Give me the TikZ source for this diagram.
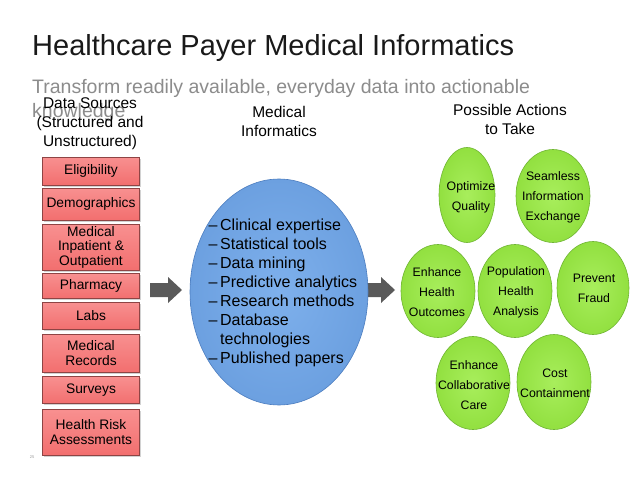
\documentclass[tikz,border=0pt]{standalone}
\usepackage{fontspec}
\setmainfont{Liberation Sans}
\usetikzlibrary{shapes.geometric,shadows}
\definecolor{redfill}{HTML}{F26F6F}
\definecolor{redtop}{HTML}{F89090}
\definecolor{redline}{HTML}{8E4444}
\definecolor{greenfill}{HTML}{92E040}
\definecolor{greenin}{HTML}{A8EE5C}
\definecolor{greenline}{HTML}{6FB532}
\definecolor{bluefill}{HTML}{6CA0E0}
\definecolor{bluein}{HTML}{7EB0EC}
\definecolor{blueline}{HTML}{4C7DBF}
\definecolor{arrowgray}{HTML}{5A5A5A}
\definecolor{subgray}{HTML}{8C8C8C}
\tikzset{
  srcbox/.style={rectangle, minimum width=97pt, inner sep=1pt, align=center,
    top color=redtop, bottom color=redfill, draw=redline, line width=0.8pt,
    font=\fontsize{13.8}{14.5}\selectfont, drop shadow={shadow xshift=1pt, shadow yshift=-1.5pt, opacity=0.35}},
  action/.style={ellipse, minimum width=74pt, minimum height=93pt, inner sep=0pt,
    inner color=greenin, outer color=greenfill, draw=greenline, line width=0.6pt},
  actext/.style={align=center, font=\fontsize{12.3}{20}\selectfont},
  blockarrow/.style={fill=arrowgray, draw=none},
  heading/.style={align=center, font=\fontsize{15.5}{19}\selectfont}
}
\begin{document}
\begin{tikzpicture}[x=1pt,y=-1pt]
\useasboundingbox[fill=white] (0,0) rectangle (638,479);
% titles
\node (title) [anchor=base west, inner sep=0pt, font=\fontsize{29}{32}\selectfont, text=black!90] at (32,55) {Healthcare Payer Medical Informatics};
\node (sub) [anchor=base west, inner sep=0pt, align=left, text=subgray, font=\fontsize{19.5}{24}\selectfont] at (32,117) {Transform readily available, everyday data into actionable\\knowledge};
% headings
\node (hsrc) [heading] at (90,124) {Data Sources\\(Structured and\\Unstructured)};
\node (hmi) [heading] at (279,121) {Medical\\Informatics};
\node (hact) [heading] at (510,119) {Possible Actions\\to Take};
% source boxes
\node (b1) [srcbox, minimum height=28pt] at (91,171) {Eligibility};
\node (b2) [srcbox, minimum height=32pt] at (91,204) {Demographics};
\node (b3) [srcbox, minimum height=46pt] at (91,247) {Medical\\Inpatient \&\\Outpatient};
\node (b4) [srcbox, minimum height=25pt] at (91,286) {Pharmacy};
\node (b5) [srcbox, minimum height=27pt] at (91,316) {Labs};
\node (b6) [srcbox, minimum height=38pt] at (91,353) {Medical\\Records};
\node (b7) [srcbox, minimum height=27pt] at (91,390) {Surveys};
\node (b8) [srcbox, minimum height=46pt] at (91,432) {Health Risk\\Assessments};
\node (pg) [font=\fontsize{4}{4}\selectfont, text=black!40, inner sep=0pt] at (32,457) {25};
% arrows
\fill[blockarrow] (150,283) -- (168,283) -- (168,277) -- (182,290) -- (168,303) -- (168,297) -- (150,297) -- cycle;
\fill[blockarrow] (367,283) -- (381,283) -- (381,277) -- (395,290) -- (381,303) -- (381,297) -- (367,297) -- cycle;
% center ellipse
\node (mi) [ellipse, minimum width=178pt, minimum height=226pt, inner color=bluein, outer color=bluefill, draw=blueline, line width=0.6pt] at (279,292) {};
\node (mitext) [anchor=base west, inner sep=0pt, align=left, font=\fontsize{16}{19}\selectfont] at (220,363)
 {\llap{–\,}Clinical expertise\\\llap{–\,}Statistical tools\\\llap{–\,}Data mining\\\llap{–\,}Predictive analytics\\\llap{–\,}Research methods\\\llap{–\,}Database\\technologies\\\llap{–\,}Published papers};
% actions
\node (e1) [action, minimum width=56pt, minimum height=95pt] at (467,195) {};
\node (e2) [action] at (553,196) {};
\node (e3) [action] at (438,291) {};
\node (e4) [action] at (515,291) {};
\node (e5) [action, minimum width=72pt] at (593,288) {};
\node (e6) [action] at (473,383) {};
\node (e7) [action, minimum height=95pt] at (554,382) {};
\node (t1) [actext] at (471,197) {Optimize\\Quality};
\node (t2) [actext] at (553,197) {Seamless\\Information\\Exchange};
\node (t3) [actext] at (437,292) {Enhance\\Health\\Outcomes};
\node (t4) [actext] at (516,292) {Population\\Health\\Analysis};
\node (t5) [actext] at (594,288) {Prevent\\Fraud};
\node (t6) [actext] at (474,385) {Enhance\\Collaborative\\Care};
\node (t7) [actext] at (555,383) {Cost\\Containment};
\end{tikzpicture}
\end{document}
